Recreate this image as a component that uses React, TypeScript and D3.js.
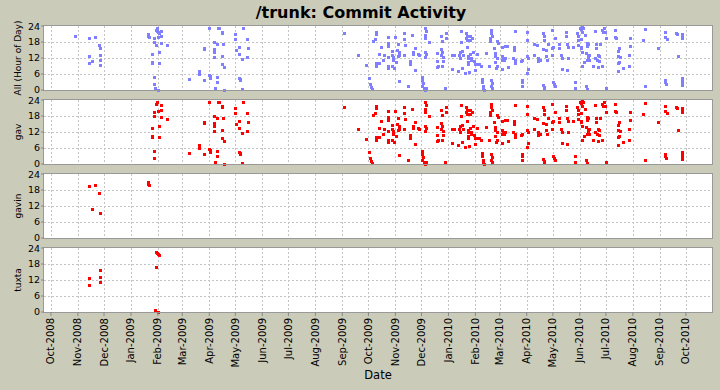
import React from "react";
import * as d3 from "d3";

// commits: [date, hour of day]
const gav: [string, number][] = [
  ["2009-01-25", 10.0], ["2009-01-25", 10.4], ["2009-01-25", 13.6], ["2009-01-27", 2.1], ["2009-01-27", 4.9],
  ["2009-01-27", 18.1], ["2009-01-27", 19.6], ["2009-01-30", 22.4], ["2009-01-31", 23.4], ["2009-02-01", 20.0],
  ["2009-02-02", 10.0], ["2009-02-02", 14.1], ["2009-02-04", 20.4], ["2009-02-05", 22.2], ["2009-02-05", 17.5],
  ["2009-02-11", 17.0],
  ["2009-03-09", 4.0], ["2009-03-20", 7.1], ["2009-03-20", 6.1], ["2009-03-26", 15.9], ["2009-03-26", 15.5],
  ["2009-03-26", 3.9], ["2009-04-01", 5.6], ["2009-04-02", 5.1], ["2009-04-02", 4.6], ["2009-04-01", 23.4],
  ["2009-04-06", 18.1], ["2009-04-07", 15.3], ["2009-04-07", 14.4], ["2009-04-07", 12.5], ["2009-04-08", 0.9],
  ["2009-04-08", 0.3], ["2009-04-10", 17.1], ["2009-04-10", 4.9], ["2009-04-10", 3.1], ["2009-04-11", 23.4],
  ["2009-04-12", 23.2], ["2009-04-16", 21.7], ["2009-04-16", 21.4], ["2009-04-16", 12.9], ["2009-04-16", 9.6],
  ["2009-04-17", 17.4], ["2009-04-18", 8.7], ["2009-04-18", 0.0], ["2009-05-01", 21.1], ["2009-05-01", 19.0],
  ["2009-05-02", 14.9], ["2009-05-05", 16.2], ["2009-05-05", 13.4], ["2009-05-05", 4.6], ["2009-05-06", 3.8],
  ["2009-05-06", 4.3], ["2009-05-09", 0.5], ["2009-05-09", 11.8], ["2009-05-10", 23.3], ["2009-05-14", 19.0],
  ["2009-05-14", 12.3], ["2009-05-16", 15.6],
  ["2009-09-03", 21.4], ["2009-09-19", 13.1], ["2009-09-28", 9.5],
  ["2009-10-02", 4.5], ["2009-10-03", 2.2], ["2009-10-04", 1.1], ["2009-10-05", 0.4],
  ["2009-10-10", 21.6], ["2009-10-10", 21.0], ["2009-10-09", 19.2], ["2009-10-06", 18.4],
  ["2009-10-10", 10.1], ["2009-10-10", 8.9], ["2009-10-13", 13.4], ["2009-10-13", 10.1], ["2009-10-15", 16.0],
  ["2009-10-18", 11.4], ["2009-10-19", 13.0], ["2009-10-23", 19.9], ["2009-10-23", 17.6], ["2009-10-24", 17.1],
  ["2009-10-24", 16.4], ["2009-10-24", 12.3], ["2009-10-23", 8.9], ["2009-10-24", 8.1],
  ["2009-10-28", 14.6], ["2009-10-28", 13.1], ["2009-10-29", 12.3], ["2009-10-29", 11.4], ["2009-10-28", 8.9],
  ["2009-10-30", 8.4], ["2009-10-31", 19.9],
  ["2009-11-04", 17.4], ["2009-11-03", 14.9], ["2009-11-05", 14.1], ["2009-11-04", 12.6], ["2009-11-05", 13.0],
  ["2009-11-02", 10.5], ["2009-11-05", 3.4], ["2009-11-11", 21.4], ["2009-11-11", 19.1], ["2009-11-12", 17.0],
  ["2009-11-11", 13.0], ["2009-11-15", 1.4], ["2009-11-20", 20.6], ["2009-11-23", 15.9], ["2009-11-21", 14.4],
  ["2009-11-21", 13.4], ["2009-11-18", 10.9], ["2009-11-18", 9.6], ["2009-11-24", 7.4], ["2009-11-27", 13.6],
  ["2009-11-28", 13.0],
  ["2009-12-05", 23.3], ["2009-12-06", 22.3], ["2009-12-05", 20.6], ["2009-12-05", 19.6], ["2009-12-05", 14.4],
  ["2009-12-06", 13.4], ["2009-12-05", 12.5], ["2009-12-02", 4.9], ["2009-12-02", 3.6], ["2009-12-03", 2.6],
  ["2009-12-02", 1.4], ["2009-12-04", 0.6], ["2009-12-06", 0.6], ["2009-12-05", 0.1], ["2009-12-10", 18.1],
  ["2009-12-19", 13.9], ["2009-12-19", 10.9], ["2009-12-20", 9.0], ["2009-12-19", 8.6],
  ["2009-12-24", 20.1], ["2009-12-25", 18.2], ["2009-12-24", 15.4], ["2009-12-25", 14.1], ["2009-12-24", 13.1],
  ["2009-12-26", 12.3], ["2009-12-26", 11.0], ["2009-12-25", 9.0], ["2009-12-29", 21.4], ["2009-12-29", 19.6],
  ["2009-12-28", 0.9],
  ["2010-01-05", 13.1], ["2010-01-07", 13.1], ["2010-01-05", 7.9], ["2010-01-12", 7.1], ["2010-01-14", 14.1],
  ["2010-01-13", 13.1], ["2010-01-14", 12.1], ["2010-01-15", 22.0], ["2010-01-15", 18.1], ["2010-01-17", 14.6],
  ["2010-01-18", 13.1], ["2010-01-17", 8.4], ["2010-01-20", 6.4], ["2010-01-21", 21.4], ["2010-01-22", 20.1],
  ["2010-01-21", 19.6], ["2010-01-22", 18.6], ["2010-01-22", 16.0], ["2010-01-23", 12.6], ["2010-01-23", 11.9],
  ["2010-01-24", 10.4], ["2010-01-24", 9.9], ["2010-01-26", 13.4], ["2010-01-27", 11.9], ["2010-01-27", 11.4],
  ["2010-01-26", 20.1], ["2010-01-28", 19.6], ["2010-01-26", 18.9], ["2010-01-25", 6.9], ["2010-01-30", 10.9],
  ["2010-01-29", 14.4],
  ["2010-02-01", 9.9], ["2010-02-03", 9.6], ["2010-02-01", 7.4], ["2010-02-03", 13.4], ["2010-02-05", 9.6],
  ["2010-02-07", 9.1], ["2010-02-09", 4.1], ["2010-02-09", 3.0], ["2010-02-10", 1.5], ["2010-02-10", 0.9],
  ["2010-02-11", 0.1], ["2010-02-13", 13.9], ["2010-02-17", 9.1], ["2010-02-19", 22.6], ["2010-02-19", 21.4],
  ["2010-02-20", 20.1], ["2010-02-18", 19.6], ["2010-02-18", 18.4], ["2010-02-19", 3.9], ["2010-02-20", 2.6],
  ["2010-02-19", 1.4], ["2010-02-20", 0.6], ["2010-02-23", 13.9], ["2010-02-23", 12.6], ["2010-02-24", 12.9],
  ["2010-02-26", 12.1], ["2010-02-22", 15.9], ["2010-02-26", 18.4], ["2010-02-27", 17.6], ["2010-02-23", 10.4],
  ["2010-02-26", 9.0], ["2010-02-25", 8.4],
  ["2010-03-03", 16.1], ["2010-03-03", 12.6], ["2010-03-04", 11.4], ["2010-03-05", 12.1], ["2010-03-03", 7.9],
  ["2010-03-07", 16.4], ["2010-03-09", 16.4], ["2010-03-07", 12.1], ["2010-03-06", 11.4], ["2010-03-10", 8.6],
  ["2010-03-18", 22.1], ["2010-03-17", 16.1], ["2010-03-17", 14.9], ["2010-03-18", 11.1], ["2010-03-19", 10.1],
  ["2010-03-16", 12.1], ["2010-03-27", 11.1], ["2010-03-25", 10.9], ["2010-03-27", 3.6], ["2010-03-27", 2.9],
  ["2010-03-27", 1.6],
  ["2010-04-01", 12.9], ["2010-04-02", 12.1], ["2010-04-01", 18.9], ["2010-04-01", 21.6], ["2010-04-02", 7.9],
  ["2010-04-01", 6.4], ["2010-04-09", 17.1], ["2010-04-09", 13.1], ["2010-04-13", 16.9], ["2010-04-14", 12.1],
  ["2010-04-14", 10.9], ["2010-04-16", 11.4], ["2010-04-20", 21.4], ["2010-04-21", 20.1], ["2010-04-21", 18.6],
  ["2010-04-20", 15.4], ["2010-04-23", 15.1], ["2010-04-23", 12.6], ["2010-04-24", 11.4], ["2010-04-26", 17.4],
  ["2010-04-20", 1.9], ["2010-04-21", 1.0], ["2010-04-21", 0.4], ["2010-04-30", 22.6], ["2010-04-30", 15.6],
  ["2010-04-30", 13.1],
  ["2010-05-01", 16.1], ["2010-05-01", 3.1], ["2010-05-02", 2.1], ["2010-05-03", 1.6], ["2010-05-04", 19.6],
  ["2010-05-08", 17.4], ["2010-05-08", 15.9], ["2010-05-08", 15.6], ["2010-05-10", 13.1], ["2010-05-12", 11.9],
  ["2010-05-11", 7.9], ["2010-05-16", 21.6], ["2010-05-16", 20.1], ["2010-05-17", 17.1], ["2010-05-18", 16.1],
  ["2010-05-19", 12.1], ["2010-05-17", 7.6], ["2010-05-24", 16.1], ["2010-05-26", 3.1], ["2010-05-26", 0.9],
  ["2010-05-29", 21.4], ["2010-05-30", 20.1], ["2010-05-30", 18.6], ["2010-05-30", 16.9],
  ["2010-06-02", 19.1], ["2010-06-01", 23.4], ["2010-06-02", 22.8], ["2010-06-04", 23.8], ["2010-06-05", 23.1],
  ["2010-06-04", 21.6], ["2010-06-07", 20.6], ["2010-06-02", 16.1], ["2010-06-02", 15.6], ["2010-06-03", 14.1],
  ["2010-06-09", 17.6], ["2010-06-09", 16.4], ["2010-06-10", 17.1], ["2010-06-08", 13.9], ["2010-06-10", 12.9],
  ["2010-06-10", 11.9], ["2010-06-09", 11.1], ["2010-06-06", 10.4], ["2010-06-03", 9.1], ["2010-06-12", 13.1],
  ["2010-06-12", 11.4], ["2010-06-08", 1.4], ["2010-06-09", 0.4], ["2010-06-16", 8.9], ["2010-06-19", 22.1],
  ["2010-06-20", 17.1], ["2010-06-20", 15.9], ["2010-06-19", 12.1], ["2010-06-21", 11.4], ["2010-06-22", 13.1],
  ["2010-06-23", 12.6], ["2010-06-23", 10.9], ["2010-06-24", 17.1], ["2010-06-22", 8.6], ["2010-06-26", 8.9],
  ["2010-06-27", 22.4], ["2010-06-28", 21.6], ["2010-06-29", 23.1], ["2010-06-30", 21.6],
  ["2010-07-01", 19.4], ["2010-07-01", 0.6], ["2010-07-12", 22.4], ["2010-07-12", 19.9], ["2010-07-13", 19.6],
  ["2010-07-16", 15.9], ["2010-07-15", 14.6], ["2010-07-15", 12.9], ["2010-07-17", 12.4], ["2010-07-16", 10.6],
  ["2010-07-15", 10.1], ["2010-07-15", 7.1], ["2010-07-21", 8.4], ["2010-07-27", 9.1], ["2010-07-28", 13.1],
  ["2010-07-29", 19.6], ["2010-07-29", 16.4],
  ["2010-08-13", 18.9], ["2010-08-15", 22.9], ["2010-08-15", 1.4], ["2010-08-30", 15.9],
  ["2010-09-07", 21.6], ["2010-09-07", 19.9], ["2010-09-09", 19.1], ["2010-09-07", 3.9], ["2010-09-07", 3.0],
  ["2010-09-08", 2.1], ["2010-09-20", 21.4], ["2010-09-21", 21.1], ["2010-09-22", 12.6], ["2010-09-26", 4.6],
  ["2010-09-26", 3.6], ["2010-09-26", 2.6], ["2010-09-26", 1.9], ["2010-09-26", 20.4], ["2010-09-26", 19.6],
  ["2010-09-26", 21.0],
];

const gavin: [string, number][] = [
  ["2008-11-14", 19.5], ["2008-11-21", 20.0], ["2008-11-25", 16.8], ["2008-11-17", 11.0], ["2008-11-26", 9.5],
  ["2009-01-21", 21.0], ["2009-01-21", 20.1], ["2009-01-22", 19.8],
];

const tuxta: [string, number][] = [
  ["2008-11-14", 12.8], ["2008-11-14", 10.0], ["2008-11-26", 15.8], ["2008-11-26", 13.0], ["2008-11-26", 11.3],
  ["2009-01-30", 22.5], ["2009-01-31", 22.3], ["2009-02-01", 21.8], ["2009-02-02", 21.3], ["2009-01-30", 17.0],
  ["2009-01-29", 0.8], ["2009-02-01", 0.0],
];

const others: [string, number][] = [["2008-10-29", 20.4]];

const panelLabels = ["All (Hour of Day)", "gav", "gavin", "tuxta"];
const hourTicks = [0, 6, 12, 18, 24];

const W = 720;
const H = 390;
const LEFT = 44;
const RIGHT = 712;
const PANEL_TOPS = [26, 100, 174, 248];
const PANEL_H = 64;
const FONT = "DejaVu Sans";

const parse = d3.utcParse("%Y-%m-%d");
const fmt = d3.utcFormat("%b-%Y");

export default function App() {
  const x = d3
    .scaleUtc()
    .domain([new Date(Date.UTC(2008, 8, 23)), new Date(Date.UTC(2010, 9, 31))])
    .range([LEFT, RIGHT]);
  const months = d3.utcMonth.range(new Date(Date.UTC(2008, 9, 1)), new Date(Date.UTC(2010, 10, 1)));

  const allData = [...others, ...gavin, ...tuxta, ...gav];
  const series = [allData, gav, gavin, tuxta];
  const colors = ["#7f7fff", "#ff0000", "#ff0000", "#ff0000"];
  const bottom = PANEL_TOPS[3] + PANEL_H;

  return (
    <svg
      width={W}
      height={H}
      style={{ position: "absolute", left: 0, top: 0, display: "block", background: "#cbcbb9" }}
      fontFamily={FONT}
    >
      <rect width={W} height={H} fill="#cbcbb9" />
      <text x={361} y={18} textAnchor="middle" fontSize={16} fontWeight="bold" fill="#000">
        /trunk: Commit Activity
      </text>

      {series.map((data, i) => {
        const top = PANEL_TOPS[i];
        const y = d3.scaleLinear().domain([0, 24]).range([top + PANEL_H, top]);
        return (
          <g key={i}>
            <rect x={LEFT} y={top} width={RIGHT - LEFT} height={PANEL_H} fill="#fff" />
            {months.map((m, j) => (
              <line
                key={"v" + j}
                x1={Math.round(x(m)) + 0.5}
                x2={Math.round(x(m)) + 0.5}
                y1={top}
                y2={top + PANEL_H}
                stroke="#c4c4c4"
                strokeDasharray="2,2"
              />
            ))}
            {hourTicks.slice(1, -1).map((h) => (
              <line
                key={"h" + h}
                x1={LEFT}
                x2={RIGHT}
                y1={Math.round(y(h)) + 0.5}
                y2={Math.round(y(h)) + 0.5}
                stroke="#c4c4c4"
                strokeDasharray="2,2"
              />
            ))}
            {data.map(([d, h], k) => (
              <rect
                key={k}
                x={Math.round(x(parse(d)!)) - 1}
                y={Math.round(y(h)) - 1}
                width={3}
                height={3}
                fill={colors[i]}
              />
            ))}
            <rect
              x={LEFT - 0.5}
              y={top - 0.5}
              width={RIGHT - LEFT + 1}
              height={PANEL_H + 1}
              fill="none"
              stroke="#999"
            />
            {hourTicks.map((h) => (
              <g key={"t" + h}>
                <line x1={LEFT - 3} x2={LEFT} y1={y(h)} y2={y(h)} stroke="#888" />
                <text
                  x={LEFT - 4}
                  y={y(h) + (h === 0 ? -0.5 : h === 24 ? 0.5 : 0)}
                  dy="0.36em"
                  textAnchor="end"
                  fontSize={9.5}
                  fill="#000"
                >
                  {h}
                </text>
              </g>
            ))}
            <text
              transform={`translate(21,${top + PANEL_H / 2}) rotate(-90)`}
              textAnchor="middle"
              fontSize={9}
              fill="#000"
            >
              {panelLabels[i]}
            </text>
          </g>
        );
      })}

      {months.map((m, j) => (
        <g key={"xt" + j}>
          <line x1={x(m)} x2={x(m)} y1={bottom} y2={bottom + 4} stroke="#888" />
          <text
            transform={`translate(${x(m) + 3.5},${bottom + 6}) rotate(-90)`}
            textAnchor="end"
            fontSize={10}
            fill="#000"
          >
            {fmt(m)}
          </text>
        </g>
      ))}
      <text x={(LEFT + RIGHT) / 2} y={379} textAnchor="middle" fontSize={11.5} fill="#000">
        Date
      </text>
    </svg>
  );
}
